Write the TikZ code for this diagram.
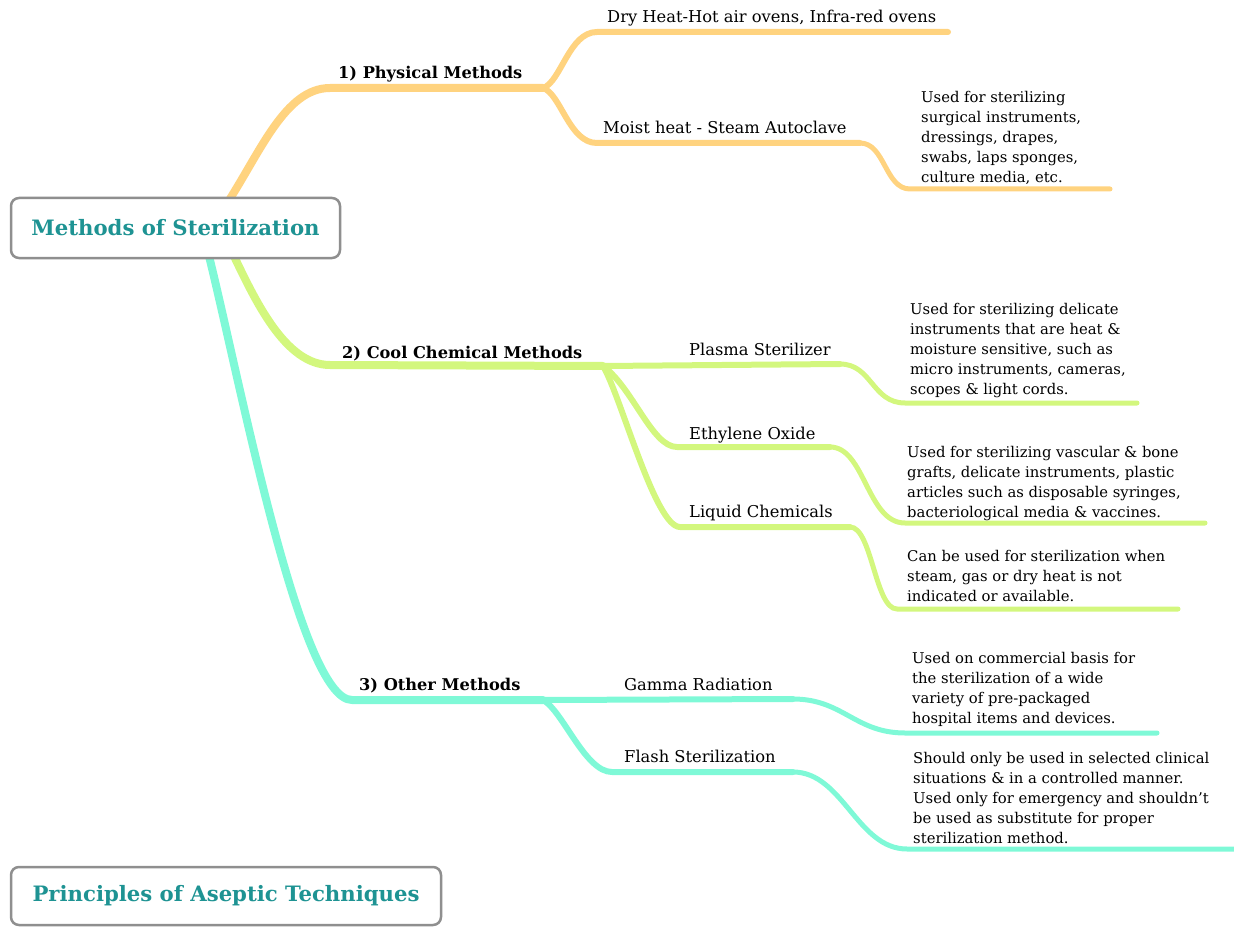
\documentclass[tikz,border=0pt]{standalone}
\usepackage{fontspec}
\setmainfont{DejaVu Serif}
\definecolor{orng}{HTML}{FFD37F}
\definecolor{lime}{HTML}{D3F77E}
\definecolor{aqua}{HTML}{7FF9D7}
\definecolor{tealtxt}{HTML}{1E9393}
\definecolor{boxgray}{HTML}{8F8F8F}
\begin{document}
\begin{tikzpicture}[x=1pt,y=-1pt,
  trunk/.style={line width=8pt, line cap=round, line join=round},
  twig/.style={line width=6pt, line cap=round, line join=round},
  leafline/.style={line width=5pt, line cap=round, line join=round},
  topic/.style={draw=boxgray, line width=2.5pt, rounded corners=8pt, fill=white,
    text=tealtxt, font=\fontsize{21.2}{24}\selectfont\bfseries, inner sep=0pt},
  mainlbl/.style={font=\fontsize{16.2}{20}\selectfont\bfseries, inner sep=0pt, anchor=base west},
  sublbl/.style={font=\fontsize{16.3}{20}\selectfont, inner sep=0pt, anchor=base west},
  leaftxt/.style={font=\fontsize{14.8}{20}\selectfont, inner sep=0pt, anchor=north west, align=left},
]
\useasboundingbox (0,0) rectangle (1234,928);

% ---------- junction coordinates ----------
\coordinate (p1s) at (226,205);
\coordinate (p1a) at (330,88);
\coordinate (p1f) at (543,88);
\coordinate (dryA) at (597,32);
\coordinate (dryB) at (948,32);
\coordinate (moA) at (597,143);
\coordinate (moB) at (860,143);
\coordinate (moC) at (910,189);
\coordinate (moD) at (1110,189);

\coordinate (g0) at (232,252);
\coordinate (gA) at (330,365);
\coordinate (gF) at (603,366);
\coordinate (plB) at (840,364);
\coordinate (plC) at (905,403);
\coordinate (plD) at (1137,403);
\coordinate (etA) at (677,447);
\coordinate (etB) at (830,447);
\coordinate (etC) at (905,523);
\coordinate (etD) at (1205,523);
\coordinate (liA) at (680,527);
\coordinate (liB) at (850,527);
\coordinate (liC) at (897,609);
\coordinate (liD) at (1178,609);

\coordinate (a0) at (208,252);
\coordinate (aA) at (352,700);
\coordinate (aF) at (543,700);
\coordinate (gaB) at (793,699);
\coordinate (gaC) at (905,733);
\coordinate (gaD) at (1157,733);
\coordinate (flA) at (612,772);
\coordinate (flB) at (793,772);
\coordinate (flC) at (907,849);
\coordinate (flD) at (1240,849);

% ---------- connectors ----------
% physical (orange)
\draw[trunk, orng] (p1s) .. controls +(34,-52) and +(-45,0) .. (p1a) -- (p1f);
\draw[twig, orng] (p1f) .. controls +(18,-6) and +(-28,0) .. (dryA) -- (dryB);
\draw[twig, orng] (p1f) .. controls +(18,6) and +(-28,0) .. (moA) -- (moB);
\draw[leafline, orng] (moB) .. controls +(25,0) and +(-25,0) .. (moC) -- (moD);

% chemical (lime)
\draw[trunk, lime] (g0) .. controls +(23,48) and +(-45,0) .. (gA) -- (gF);
\draw[twig, lime] (gF) -- (plB);
\draw[leafline, lime] (plB) .. controls +(32,0) and +(-33,0) .. (plC) -- (plD);
\draw[twig, lime] (gF) .. controls +(30,22) and +(-25,0) .. (etA) -- (etB);
\draw[leafline, lime] (etB) .. controls +(35,0) and +(-38,0) .. (etC) -- (etD);
\draw[twig, lime] (gF) .. controls +(18,30) and +(-25,0) .. (liA) -- (liB);
\draw[leafline, lime] (liB) .. controls +(22,0) and +(-22,0) .. (liC) -- (liD);

% other (aqua)
\draw[trunk, aqua] (a0) .. controls +(32,128) and +(-52,0) .. (aA) -- (aF);
\draw[twig, aqua] (aF) -- (gaB);
\draw[leafline, aqua] (gaB) .. controls +(50,0) and +(-50,0) .. (gaC) -- (gaD);
\draw[twig, aqua] (aF) .. controls +(20,11) and +(-27,0) .. (flA) -- (flB);
\draw[leafline, aqua] (flB) .. controls +(50,0) and +(-50,0) .. (flC) -- (flD);

% ---------- topic boxes ----------
\node[topic, minimum width=329pt, minimum height=60pt] (root) at (175.5,228) {Methods of Sterilization};
\node[topic, minimum width=430pt, minimum height=58pt] (princ) at (226,896) {Principles of Aseptic Techniques};

% ---------- labels ----------
\node[mainlbl] (phys) at (338,79) {1) Physical Methods};
\node[mainlbl] (cool) at (342,358) {2) Cool Chemical Methods};
\node[mainlbl] (other) at (359,690) {3) Other Methods};

\node[sublbl] (dry) at (607,23) {Dry Heat-Hot air ovens, Infra-red ovens};
\node[sublbl] (moist) at (603,134) {Moist heat - Steam Autoclave};
\node[sublbl] (plasma) at (689,355) {Plasma Sterilizer};
\node[sublbl] (ethyl) at (689,439) {Ethylene Oxide};
\node[sublbl] (liquid) at (689,517) {Liquid Chemicals};
\node[sublbl] (gamma) at (624,690) {Gamma Radiation};
\node[sublbl] (flash) at (624,762) {Flash Sterilization};

\node[leaftxt] (moistleaf) at (921,91) {Used for sterilizing\\surgical instruments,\\dressings, drapes,\\swabs, laps sponges,\\culture media, etc.};
\node[leaftxt] (plasmaleaf) at (910,303) {Used for sterilizing delicate\\instruments that are heat \&\\moisture sensitive, such as\\micro instruments, cameras,\\scopes \& light cords.};
\node[leaftxt] (ethylleaf) at (907,446) {Used for sterilizing vascular \& bone\\grafts, delicate instruments, plastic\\articles such as disposable syringes,\\bacteriological media \& vaccines.};
\node[leaftxt] (liquidleaf) at (907,550) {Can be used for sterilization when\\steam, gas or dry heat is not\\indicated or available.};
\node[leaftxt] (gammaleaf) at (912,652) {Used on commercial basis for\\the sterilization of a wide\\variety of pre-packaged\\hospital items and devices.};
\node[leaftxt] (flashleaf) at (913,752) {Should only be used in selected clinical\\situations \& in a controlled manner.\\Used only for emergency and shouldn{\char"0027}t\\be used as substitute for proper\\sterilization method.};
\end{tikzpicture}
\end{document}
